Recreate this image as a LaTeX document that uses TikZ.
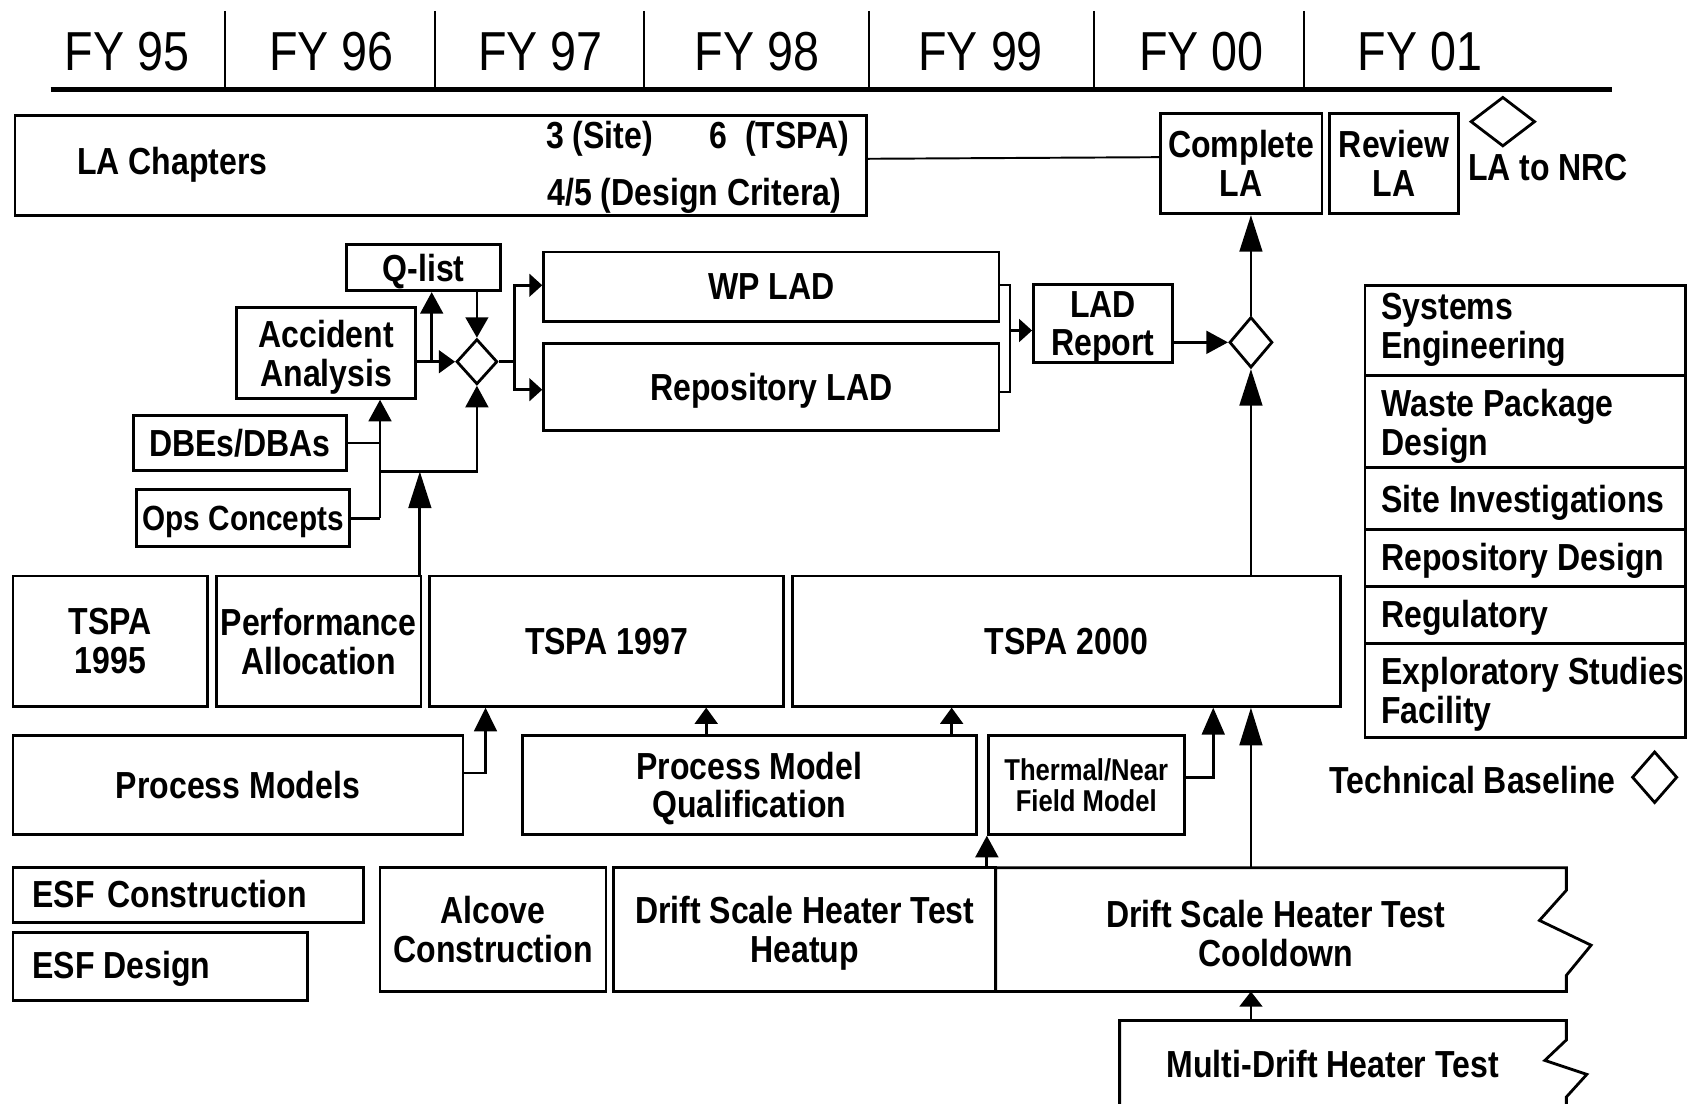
\documentclass[tikz,border=0pt]{standalone}
\usepackage{fontspec}
\setmainfont{Liberation Sans}[FakeStretch=0.85]
\usetikzlibrary{arrows.meta,shapes.geometric}
\begin{document}
\begin{tikzpicture}[x=1pt,y=-1pt,
  box/.style={draw,line width=2.6pt,inner sep=0pt,align=center,text depth=0pt,
    font=\bfseries\fontsize{35}{36}\selectfont},
  txt/.style={inner sep=0pt,align=center,text depth=0pt,font=\bfseries\fontsize{35}{36}\selectfont},
  ltxt/.style={txt,anchor=west,align=left},
  fy/.style={inner sep=0pt,font=\fontsize{51}{51}\selectfont},
  dia/.style={draw,diamond,line width=2.6pt,inner sep=0pt},
  conn/.style={line width=2.6pt},
  thin/.style={line width=1.8pt},
  arr/.style={conn,-{Triangle[length=#1,width=21pt]}},
  arr/.default=20pt,
]
\useasboundingbox (0,0) rectangle (1568,1025);
% timeline
\draw[line width=5pt] (47,83) -- (1497,83);
\foreach \x in {209,404,598,807,1016,1211} \draw[line width=2pt] (\x,10) -- (\x,83);
\node[fy] (fy95) at (118,48) {FY 95};
\node[fy] (fy96) at (308,48) {FY 96};
\node[fy] (fy97) at (502,48) {FY 97};
\node[fy] (fy98) at (703,48) {FY 98};
\node[fy] (fy99) at (911,48) {FY 99};
\node[fy] (fy00) at (1116,48) {FY 00};
\node[fy] (fy01) at (1319,48) {FY 01};
% LA row
\node[box,minimum width=791pt,minimum height=93pt] (LA) at (409.5,153.5) {};
\node[txt] (lach) at (160,149) {LA Chapters};
\node[txt] (site) at (557,125) {3 (Site)};
\node[txt] (tspa) at (724,125) {6\ \ (TSPA)};
\node[txt] (desc) at (645,178) {4/5 (Design Critera)};
\node[box,minimum width=150pt,minimum height=93pt] (CLA) at (1153,152) {Complete\\LA};
\node[box,minimum width=120pt,minimum height=93pt] (RLA) at (1295,152) {Review\\LA};
\node[dia,minimum width=60pt,minimum height=46pt] (nrc) at (1396,113) {};
\node[txt] (nrctxt) at (1438,155) {LA to NRC};
\draw[thin] ([yshift=6pt]LA.east) -- ([yshift=6pt]CLA.west);
% analysis cluster
\node[box,minimum width=143pt,minimum height=43pt] (Q) at (393.5,248.5) {Q-list};
\node[box,minimum width=166pt,minimum height=84pt] (AA) at (303,328) {Accident\\Analysis};
\node[box,minimum width=198pt,minimum height=51pt] (DB) at (223,411.5) {DBEs/DBAs};
\node[box,minimum width=198pt,minimum height=53pt,font=\bfseries\fontsize{32.5}{34}\selectfont] (OC) at (226,481.5) {Ops Concepts};
\node[dia,minimum width=38pt,minimum height=42pt] (d1) at (443,336) {};
\node[box,minimum width=423pt,minimum height=65pt] (WP) at (716.5,266.5) {WP LAD};
\node[box,minimum width=423pt,minimum height=81pt] (RL) at (716.5,359.5) {Repository LAD};
\node[box,minimum width=129pt,minimum height=73pt] (LR) at (1024.5,300.5) {LAD\\Report};
\node[dia,minimum width=40pt,minimum height=47pt] (d2) at (1162,318) {};
\coordinate (j1) at (401,336);
\coordinate (j2) at (353,481.5);
\coordinate (j3) at (353,438);
\coordinate (j4) at (390,438);
\coordinate (j5) at (478,336);
\coordinate (b1) at (938,265);
\coordinate (b2) at (938,364);
\coordinate (b3) at (938,307);
\draw[arr=15pt] (AA.east |- d1) -- (d1.west);
\draw[arr=20pt] (j1) -- (j1 |- Q.south);
\draw[arr=19pt] (Q.south -| d1) -- (d1.north);
\draw[conn] (DB.east) -- (DB.east -| j2);
\draw[conn] (OC.east) -- (j2);
\draw[arr=20pt] (j2) -- (j2 |- AA.south);
\draw[arr=20pt] (j3) -| (d1.south);
\draw[conn] (d1.east) -- (j5);
\draw[arr=12pt] (j5) |- ([yshift=1.5pt]WP.west);
\draw[arr=12pt] (j5) |- ([yshift=-2.5pt]RL.west);
\draw[thin] (WP.east |- b1) -- (b1) -- (b2) -- (RL.east |- b2);
\draw[arr=12pt] (b3) -- (LR.west |- b3);
\draw[arr=20pt] (LR.east |- d2) -- (d2.west);
\draw[arr=34pt] (d2.north) -- (d2.north |- CLA.south);
% legend
\node[box,minimum width=298pt,minimum height=84pt] (SE) at (1417,307) {};
\node[box,minimum width=298pt,minimum height=85pt] (WPD) at (1417,391.5) {};
\node[box,minimum width=298pt,minimum height=58pt] (SI) at (1417,463) {};
\node[box,minimum width=298pt,minimum height=53pt] (RD) at (1417,518.5) {};
\node[box,minimum width=298pt,minimum height=53pt] (RG) at (1417,571.5) {};
\node[box,minimum width=298pt,minimum height=87pt] (EF) at (1417,641.5) {};
\node[ltxt] (SEt) at (1283,303) {Systems\\Engineering};
\node[ltxt] (WPDt) at (1283,392) {Waste Package\\Design};
\node[ltxt] (SIt) at (1283,463) {Site Investigations};
\node[ltxt] (RDt) at (1283,517) {Repository Design};
\node[ltxt] (RGt) at (1283,570) {Regulatory};
\node[ltxt] (EFt) at (1283,641) {Exploratory Studies\\Facility};
\node[txt] (tb) at (1368,724) {Technical Baseline};
\node[dia,minimum width=42pt,minimum height=48pt] (tbd) at (1537,722) {};
% TSPA row
\node[box,minimum width=181pt,minimum height=121pt] (T95) at (102.5,595.5) {TSPA\\1995};
\node[box,minimum width=190pt,minimum height=121pt] (PA) at (296,595.5) {Performance\\Allocation};
\node[box,minimum width=329pt,minimum height=121pt] (T97) at (563.5,595.5) {TSPA 1997};
\node[box,minimum width=509pt,minimum height=121pt] (T00) at (990.5,595.5) {TSPA 2000};
\draw[arr=34pt] (j4 |- PA.north) -- (j4);
\draw[arr=34pt] (d2 |- T00.north) -- (d2.south);
% process models row
\node[box,minimum width=418pt,minimum height=92pt] (PM) at (221,729) {Process Models};
\node[box,minimum width=422pt,minimum height=92pt] (PMQ) at (696,729) {Process Model\\Qualification};
\node[box,minimum width=182pt,minimum height=92pt,font=\bfseries\fontsize{28}{29}\selectfont] (TH) at (1009,729) {Thermal/Near\\Field Model};
\coordinate (j6) at (451,718);
\coordinate (j7) at (1127,722);
\draw[arr=22pt] (PM.east |- j6) -| (j6 |- T97.south);
\draw[arr=15pt] ([xshift=-40pt]PMQ.north) -- ([xshift=-40pt]PMQ.north |- T97.south);
\draw[arr=15pt] ([xshift=188pt]PMQ.north) -- ([xshift=188pt]PMQ.north |- T00.south);
\draw[arr=25pt] (TH.east |- j7) -| (j7 |- T00.south);
% bottom row
\node[box,minimum width=326pt,minimum height=51pt] (EC) at (175,831.5) {};
\node[ltxt] (ECt) at (30,830) {ESF\hspace{12pt}Construction};
\node[box,minimum width=274pt,minimum height=63pt] (ED) at (149,897.5) {};
\node[ltxt] (EDt) at (30,896) {ESF Design};
\node[box,minimum width=210pt,minimum height=115pt] (AC) at (458,863.5) {Alcove\\Construction};
\node[box,minimum width=355pt,minimum height=115pt] (HU) at (747.5,863.5) {Drift Scale Heater Test\\Heatup};
\draw[line width=2.6pt] (925,806) -- (1455,806) -- (1455,827) -- (1430,855) -- (1478,878) -- (1455,906) -- (1455,921) -- (925,921) -- cycle;
\node[txt] (CD) at (1185,867) {Drift Scale Heater Test\\Cooldown};
\draw[line width=2.6pt] (1040,1035) -- (1040,948) -- (1455,948) -- (1455,966) -- (1435,985) -- (1474,998) -- (1455,1019) -- (1455,1035);
\node[txt] (MD) at (1238,988) {Multi-Drift Heater Test};
\coordinate (cooltop) at (1162,806);
\coordinate (coolbot) at (1162,921);
\coordinate (mdtop) at (1162,948);
\draw[arr=35pt] (cooltop) -- (cooltop |- T00.south);
\draw[arr=20pt] (TH.south west |- HU.north) -- (TH.south west);
\draw[arr=14pt] (mdtop) -- (coolbot);
\end{tikzpicture}
\end{document}
